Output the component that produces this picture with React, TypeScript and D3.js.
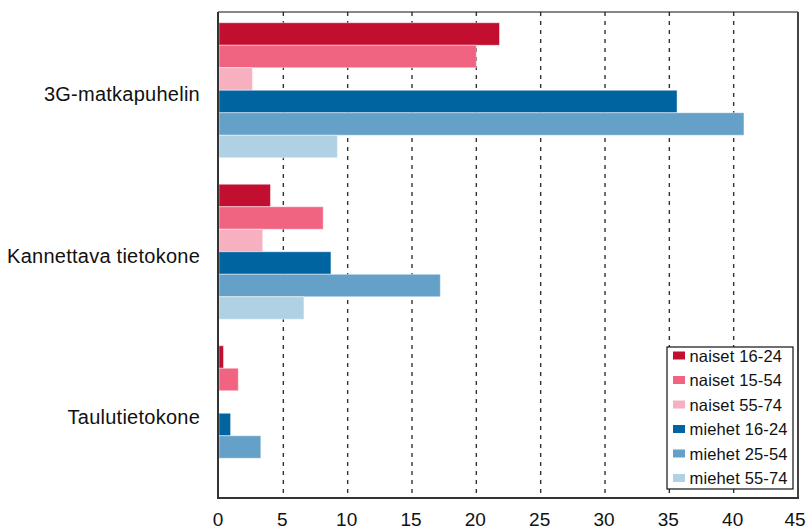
import * as d3 from "d3";
import React from "react";

// categories and series
const categories = ["3G-matkapuhelin", "Kannettava tietokone", "Taulutietokone"];
const seriesNames = [
  "naiset 16-24",
  "naiset 15-54",
  "naiset 55-74",
  "miehet 16-24",
  "miehet 25-54",
  "miehet 55-74",
];
const seriesColors = ["#c20e2f", "#f06482", "#f7b0c0", "#0064a0", "#64a0c8", "#b0d0e4"];

const naiset1624 = [21.8, 4.0, 0.35];
const naiset2554 = [20.0, 8.1, 1.5];
const naiset5574 = [2.6, 3.4, 0];
const miehet1624 = [35.6, 8.7, 0.9];
const miehet2554 = [40.8, 17.2, 3.25];
const miehet5574 = [9.2, 6.6, 0];

const xTicks = [0, 5, 10, 15, 20, 25, 30, 35, 40, 45];

const W = 808;
const H = 529;
const frame = { left: 218, right: 798, top: 12, bottom: 498 };

const App = () => {
  const values = [naiset1624, naiset2554, naiset5574, miehet1624, miehet2554, miehet5574];

  const x = d3.scaleLinear().domain([0, 45]).range([219, 798]);
  const y0 = d3
    .scaleBand<string>()
    .domain(categories)
    .range([9.5, 494])
    .paddingInner(0.164)
    .paddingOuter(0.082);
  const y1 = d3
    .scaleBand<string>()
    .domain(seriesNames)
    .range([0, y0.bandwidth()]);

  const font = "'Liberation Sans', Arial, sans-serif";

  return (
    <svg
      width={W}
      height={H}
      style={{ position: "absolute", left: 0, top: 0, background: "#fff" }}
    >
      {/* gridlines */}
      {xTicks.slice(1, -1).map((t) => (
        <line
          key={t}
          x1={x(t)}
          x2={x(t)}
          y1={frame.top}
          y2={frame.bottom}
          stroke="#333"
          strokeWidth={1.4}
          strokeDasharray="4 5"
        />
      ))}

      {/* bars */}
      {categories.map((c, ci) => (
        <g key={c} transform={`translate(0, ${y0(c)})`}>
          {seriesNames.map((s, si) =>
            values[si][ci] > 0 ? (
              <rect
                key={s}
                x={x(0)}
                y={y1(s)}
                width={x(values[si][ci]) - x(0)}
                height={y1.bandwidth()}
                fill={seriesColors[si]}
                stroke="#fff"
                strokeOpacity={0.45}
                strokeWidth={1}
              />
            ) : null
          )}
        </g>
      ))}

      {/* frame */}
      <line x1={frame.left} x2={frame.right} y1={frame.top} y2={frame.top} stroke="#111" strokeWidth={1} />
      <line x1={frame.right} x2={frame.right} y1={frame.top} y2={frame.bottom} stroke="#444" strokeWidth={2} />
      <line x1={frame.left} x2={frame.left} y1={frame.top} y2={frame.bottom + 1} stroke="#333" strokeWidth={2} />
      <line x1={frame.left - 1} x2={frame.right + 1} y1={frame.bottom} y2={frame.bottom} stroke="#333" strokeWidth={2} />

      {/* category labels */}
      {categories.map((c) => (
        <text
          key={c}
          x={200}
          y={(y0(c) ?? 0) + y0.bandwidth() / 2 + 4}
          textAnchor="end"
          dominantBaseline="central"
          fontFamily={font}
          fontSize={20}
          letterSpacing={0.25}
          fill="#111"
        >
          {c}
        </text>
      ))}

      {/* x tick labels */}
      {xTicks.map((t) => (
        <text
          key={t}
          x={Math.min(x(t) - 1, 795)}
          y={526}
          textAnchor="middle"
          fontFamily={font}
          fontSize={19}
          fill="#111"
        >
          {t}
        </text>
      ))}

      {/* legend */}
      <g transform="translate(667, 347)">
        <rect x={0} y={0} width={126} height={142} fill="#fff" stroke="#111" strokeWidth={1.2} />
        {seriesNames.map((s, i) => (
          <g key={s} transform={`translate(0, ${8.5 + i * 24.5})`}>
            <rect x={6} y={-4} width={12} height={8} fill={seriesColors[i]} />
            <text
              x={22.5}
              y={0}
              dominantBaseline="central"
              fontFamily={font}
              fontSize={16.5}
              letterSpacing={0.15}
              fill="#111"
            >
              {s}
            </text>
          </g>
        ))}
      </g>
    </svg>
  );
};

export default App;
